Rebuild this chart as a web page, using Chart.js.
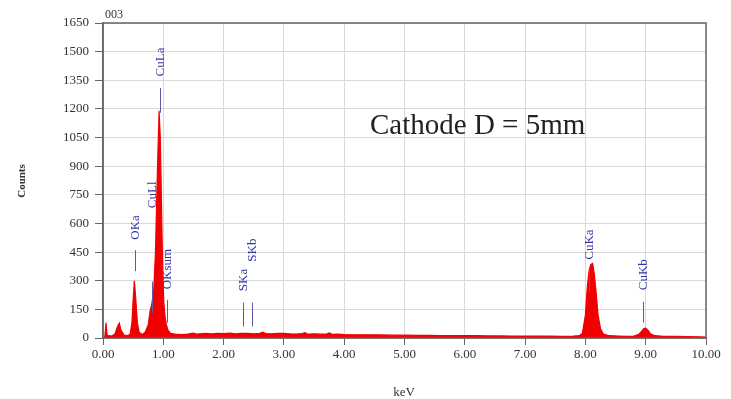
<!DOCTYPE html>
<html>
<head>
<meta charset="utf-8">
<script src="https://cdn.jsdelivr.net/npm/chart.js@4/dist/chart.umd.min.js"></script>
<style>
html,body{margin:0;padding:0;background:#fff;}
#wrap{width:731px;height:399px;position:relative;}
</style>
</head>
<body>
<div id="wrap"><canvas id="c" width="731" height="399"></canvas></div>
<script>
// Spectrum (energy in keV, counts)
const energyKeV = [
 0.00,0.03,0.05,0.07,0.10,0.15,0.20,0.24,0.27,0.30,0.35,0.40,0.45,0.48,0.50,0.52,0.54,0.57,0.60,0.65,
 0.70,0.75,0.78,0.81,0.84,0.87,0.90,0.93,0.95,0.97,0.99,1.01,1.03,1.05,1.08,1.12,1.20,1.30,1.40,1.50,
 1.55,1.60,1.70,1.80,1.90,2.00,2.10,2.20,2.30,2.40,2.50,2.60,2.65,2.70,2.80,2.90,3.00,3.10,3.20,3.30,
 3.35,3.40,3.50,3.60,3.70,3.75,3.80,3.90,4.00,4.20,4.40,4.60,4.80,5.00,5.20,5.40,5.60,5.80,6.00,6.20,
 6.40,6.60,6.80,7.00,7.20,7.40,7.60,7.80,7.90,7.95,8.00,8.03,8.06,8.09,8.12,8.15,8.18,8.21,8.25,8.30,
 8.40,8.55,8.70,8.80,8.88,8.93,8.97,9.00,9.04,9.08,9.15,9.30,9.50,9.70,9.90,10.00
];
const counts = [
 0,5,80,10,12,10,22,60,78,40,15,12,20,80,200,300,220,80,30,18,
 30,70,140,180,240,450,850,1190,1050,700,350,180,110,70,40,25,20,18,20,26,
 20,22,24,22,25,23,26,22,24,25,22,24,30,23,22,25,24,22,21,23,
 28,20,22,21,20,27,19,20,18,17,17,16,15,15,14,14,13,13,12,12,
 11,11,10,10,10,10,9,10,12,25,120,260,350,385,390,330,230,120,50,20,
 12,10,9,10,18,35,50,52,40,22,12,9,8,7,6,5
];
// Peak identification markers
const peakNames  = ["OKa","CuLl","CuLa","OKsum","SKa","SKb","CuKa","CuKb"];
const peakKeV    = [0.53, 0.81, 0.94, 1.06, 2.32, 2.47, 8.06, 8.95];
const markLow    = [350, 130, 1180, 80, 60, 60, 240, 80];
const markHigh   = [460, 295, 1310, 200, 185, 185, 360, 190];
const labelLow   = [515, 680, 1370, 255, 245, 400, 410, 250];
const xTicks = [0,1,2,3,4,5,6,7,8,9,10];
const yTicks = [0,150,300,450,600,750,900,1050,1200,1350,1500,1650];

const serif = "'Liberation Serif','DejaVu Serif',serif";

const decor = {
  id:'decor',
  afterDatasetsDraw(chart){
    const {ctx, chartArea:a, scales:{x,y}} = chart;
    ctx.save();
    // frame
    ctx.strokeStyle='#666'; ctx.lineWidth=1.5;
    ctx.strokeRect(a.left, a.top, a.right-a.left, a.bottom-a.top);
    // markers
    ctx.strokeStyle='#5a5aa8'; ctx.lineWidth=1;
    ctx.fillStyle='#3535aa';
    ctx.font = "13px "+serif;
    for(let i=0;i<peakNames.length;i++){
      const px = Math.round(x.getPixelForValue(peakKeV[i]))+0.5;
      ctx.beginPath();
      ctx.moveTo(px, y.getPixelForValue(markLow[i]));
      ctx.lineTo(px, y.getPixelForValue(markHigh[i]));
      ctx.stroke();
      ctx.save();
      ctx.translate(px, y.getPixelForValue(labelLow[i]));
      ctx.rotate(-Math.PI/2);
      ctx.textAlign='left'; ctx.textBaseline='middle';
      ctx.fillText(peakNames[i], 0, 0);
      ctx.restore();
    }
    // texts
    ctx.fillStyle='#222';
    ctx.font = "29px "+serif;
    ctx.textAlign='left'; ctx.textBaseline='alphabetic';
    ctx.fillText("Cathode D = 5mm", 370, 134);
    ctx.fillStyle='#333';
    ctx.font = "12px "+serif;
    ctx.fillText("003", a.left+2, 18);
    ctx.textAlign='center';
    ctx.font = "13px "+serif;
    ctx.fillText("keV", 404, 396);
    ctx.textBaseline='middle';
    ctx.fillText("keV", 413, -3);
    ctx.save();
    ctx.translate(22, 181);
    ctx.rotate(-Math.PI/2);
    ctx.font = "bold 11px "+serif;
    ctx.fillText("Counts", 0, 0);
    ctx.restore();
    ctx.restore();
  }
};

new Chart(document.getElementById('c'), {
  type:'line',
  data:{
    datasets:[{
      data: energyKeV.map((e,i)=>({x:e, y:counts[i]})),
      borderColor:'#f00000',
      backgroundColor:'#f00000',
      borderWidth:1.2,
      pointRadius:0,
      tension:0,
      fill:'origin'
    }]
  },
  options:{
    responsive:false,
    animation:false,
    layout:{padding:{left:0,right:25,top:23,bottom:0}},
    plugins:{legend:{display:false}, tooltip:{enabled:false}},
    scales:{
      x:{
        type:'linear', min:0, max:10,
        afterBuildTicks(s){ s.ticks = xTicks.map(v=>({value:v})); },
        afterFit(s){ s.height = 61; },
        ticks:{ callback:v=>Number(v).toFixed(2), font:{family:serif,size:13}, color:'#333', padding:2, maxRotation:0 },
        grid:{ color:'#d9d9d9', tickColor:'#666', tickLength:7, lineWidth:1 },
        border:{ color:'#666', width:1.5 }
      },
      y:{
        min:0, max:1650,
        afterBuildTicks(s){ s.ticks = yTicks.map(v=>({value:v})); },
        afterFit(s){ s.width = 103; },
        ticks:{ callback:v=>String(v), font:{family:serif,size:13}, color:'#333', padding:6 },
        grid:{ color:'#d9d9d9', tickColor:'#666', tickLength:8, lineWidth:1 },
        border:{ color:'#666', width:1.5 }
      }
    }
  },
  plugins:[decor]
});
</script>
</body>
</html>
